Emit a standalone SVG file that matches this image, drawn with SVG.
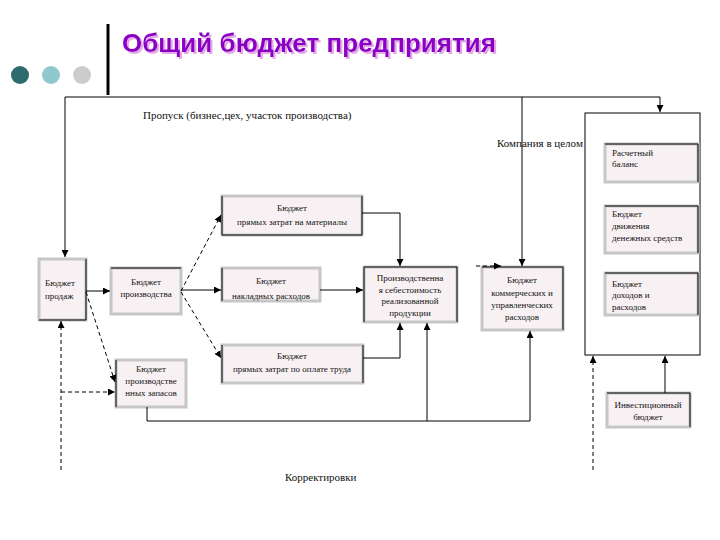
<svg xmlns="http://www.w3.org/2000/svg" width="720" height="540" viewBox="0 0 720 540">
<style>
.t{font-family:"Liberation Serif","Times New Roman",serif;font-size:9px;fill:#111}
.c{text-anchor:middle}
.lbl{font-family:"Liberation Serif","Times New Roman",serif;font-size:11px;fill:#111}
.box{fill:#f8f1f4;stroke:#c6c6c6;stroke-width:3}
.edge{fill:none;stroke:#000;stroke-width:1}
.ln{fill:none;stroke:#000;stroke-width:1}
.dash{fill:none;stroke:#000;stroke-width:1;stroke-dasharray:4,3}
.title{font-family:"Liberation Sans",Arial,sans-serif;font-weight:bold;font-size:26px}
</style>
<defs>
<marker id="ar" viewBox="0 0 10 10" refX="10" refY="5" markerWidth="7" markerHeight="7" orient="auto" markerUnits="userSpaceOnUse">
<path d="M0,0 L10,5 L0,10 z" fill="#000"/>
</marker>
<filter id="sh" x="-5%" y="-20%" width="110%" height="150%">
<feDropShadow dx="2" dy="2" stdDeviation="0.3" flood-color="#e6a8e6" flood-opacity="1"/>
</filter>
</defs>
<rect width="720" height="540" fill="#fff"/>
<g id="header">
<circle cx="20" cy="75" r="9" fill="#2e6b6e"/>
<circle cx="51" cy="75" r="9" fill="#90c8cc"/>
<circle cx="82" cy="75" r="9" fill="#cccccc"/>
<line x1="108" y1="24" x2="108" y2="95" stroke="#000" stroke-width="3"/>
<text class="title" x="122" y="52" fill="#8a00c4" textLength="374" filter="url(#sh)">Общий бюджет предприятия</text>
</g>
<g id="labels">
<text class="lbl" x="143" y="119">Пропуск (бизнес,цех, участок производства)</text>
<text class="lbl" x="497" y="147">Компания в целом</text>
<text class="lbl" x="285" y="481">Корректировки</text>
</g>
<g id="company">
<rect x="585" y="113" width="115" height="242" fill="#fff" stroke="#000" stroke-width="1"/>
</g>
<g id="sales">
<rect class="box" x="39" y="259" width="47" height="61"/>
<path class="edge" d="M86,259 V320 H39"/>
<text class="t" x="45" y="286">Бюджет</text>
<text class="t" x="45" y="299">продаж</text>
</g>
<g id="production">
<rect class="box" x="111" y="268" width="70" height="46"/>
<path class="edge" d="M111,268 H181"/>
<text class="t c" x="146" y="285">Бюджет</text>
<text class="t c" x="146" y="297">производства</text>
</g>
<g id="materials">
<rect class="box" x="222" y="196" width="140" height="39"/>
<path class="edge" d="M222,196 V235 H362 V196"/>
<text class="t c" x="292" y="211">Бюджет</text>
<text class="t c" x="292" y="225">прямых затрат на материалы</text>
</g>
<g id="overhead">
<rect class="box" x="222" y="268" width="98" height="33"/>
<path class="edge" d="M222,268 V301"/>
<text class="t c" x="271" y="284">Бюджет</text>
<text class="t c" x="271" y="299">накладных расходов</text>
</g>
<g id="labor">
<rect class="box" x="222" y="345" width="141" height="38"/>
<path class="edge" d="M222,345 V383 M363,345 V383"/>
<text class="t c" x="292" y="359">Бюджет</text>
<text class="t c" x="292" y="372">прямых затрат по оплате труда</text>
</g>
<g id="cost">
<rect class="box" x="364" y="267" width="93" height="55"/>
<path class="edge" d="M364,322 V267 H457 V322"/>
<text class="t c" x="410" y="281">Производственна</text>
<text class="t c" x="410" y="293">я себестоимость</text>
<text class="t c" x="410" y="304">реализованной</text>
<text class="t c" x="410" y="316">продукции</text>
</g>
<g id="commercial">
<rect class="box" x="482" y="267" width="81" height="63"/>
<path class="edge" d="M482,267 H563 V330"/>
<text class="t c" x="522" y="283">Бюджет</text>
<text class="t c" x="522" y="296">коммерческих и</text>
<text class="t c" x="522" y="308">управленческих</text>
<text class="t c" x="522" y="320">расходов</text>
</g>
<g id="stocks">
<rect class="box" x="116" y="360" width="70" height="47"/>
<path class="edge" d="M116,360 V407"/>
<text class="t c" x="151" y="372">Бюджет</text>
<text class="t c" x="151" y="384">производстве</text>
<text class="t c" x="151" y="396">нных запасов</text>
</g>
<g id="balance">
<rect class="box" x="605" y="144" width="93" height="38"/>
<path class="edge" d="M605,144 H698 V182"/>
<text class="t" x="612" y="156">Расчетный</text>
<text class="t" x="612" y="167">баланс</text>
</g>
<g id="cashflow">
<rect class="box" x="605" y="206" width="93" height="47"/>
<path class="edge" d="M605,206 H698 V253"/>
<text class="t" x="612" y="217">Бюджет</text>
<text class="t" x="612" y="229">движения</text>
<text class="t" x="612" y="241">денежных средств</text>
</g>
<g id="income">
<rect class="box" x="605" y="273" width="93" height="42"/>
<path class="edge" d="M605,273 H698 V315"/>
<text class="t" x="612" y="287">Бюджет</text>
<text class="t" x="612" y="298">доходов и</text>
<text class="t" x="612" y="310">расходов</text>
</g>
<g id="investment">
<rect class="box" x="607" y="393" width="83" height="34"/>
<path class="edge" d="M607,393 H690 V427"/>
<text class="t c" x="648" y="408">Инвестиционный</text>
<text class="t c" x="648" y="420">бюджет</text>
</g>
<g id="connectors">
<path class="ln" d="M65,97 V257" marker-end="url(#ar)"/>
<path class="ln" d="M65,97 H660 V112" marker-end="url(#ar)"/>
<path class="ln" d="M522,97 V266" marker-end="url(#ar)"/>
<path class="ln" d="M86,291 H110" marker-end="url(#ar)"/>
<path class="dash" d="M86,292 L115,382" marker-end="url(#ar)"/>
<path class="dash" d="M61,470 V321" marker-end="url(#ar)"/>
<path class="dash" d="M61,392 H115" marker-end="url(#ar)"/>
<path class="dash" d="M181,291 L221,215" marker-end="url(#ar)"/>
<path class="ln" d="M181,290 H221" marker-end="url(#ar)"/>
<path class="dash" d="M181,292 L221,358" marker-end="url(#ar)"/>
<path class="ln" d="M362,213 H400 V266" marker-end="url(#ar)"/>
<path class="ln" d="M320,290 H363" marker-end="url(#ar)"/>
<path class="ln" d="M363,358 H400 V323" marker-end="url(#ar)"/>
<path class="ln" d="M147,407 V421 H530 V331" marker-end="url(#ar)"/>
<path class="ln" d="M427,421 V323" marker-end="url(#ar)"/>
<path class="dash" d="M476,266 H501" marker-end="url(#ar)"/>
<path class="dash" d="M593,470 V356" marker-end="url(#ar)"/>
<path class="ln" d="M665,393 V356" marker-end="url(#ar)"/>
</g>
</svg>
